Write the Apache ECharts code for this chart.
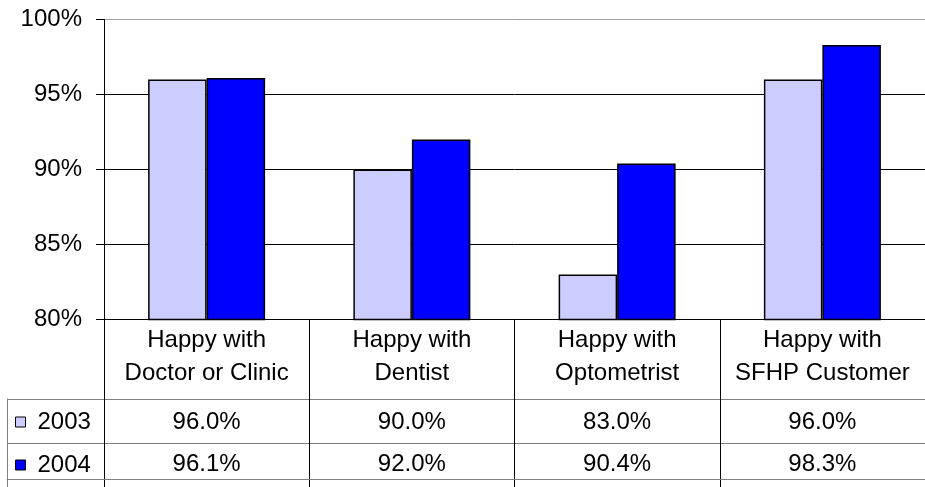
<!DOCTYPE html>
<html>
<head>
<meta charset="utf-8">
<script src="https://cdn.jsdelivr.net/npm/echarts@6/dist/echarts.min.js"></script>
<style>
html,body{margin:0;padding:0;background:#fff;}
#c{width:925px;height:487px;}
</style>
</head>
<body>
<div id="c"></div>
<script>
const categories = ['Happy with\nDoctor or Clinic', 'Happy with\nDentist', 'Happy with\nOptometrist', 'Happy with\nSFHP Customer'];
const seriesNames = ['2003', '2004'];
const values2003 = [96.0, 90.0, 83.0, 96.0];
const values2004 = [96.1, 92.0, 90.4, 98.3];
const yTicks = { min: 80, max: 100, interval: 5 };

const FONT = "'Liberation Sans', Arial, sans-serif";
const fmt = v => v.toFixed(1) + '%';
const GL = 104, GW = 826.7;

const chart = echarts.init(document.getElementById('c'), null, { renderer: 'canvas' });
chart.setOption({
  animation: false,
  backgroundColor: '#fff',
  textStyle: { fontFamily: FONT, color: '#000' },
  legend: {
    orient: 'vertical', left: 15, top: 410, padding: 0,
    itemWidth: 10, itemHeight: 10, itemGap: 19, icon: 'rect',
    textStyle: { fontFamily: FONT, fontSize: 24, color: '#000', lineHeight: 24, padding: [0, 0, 0, 7] },
    data: [
      { name: seriesNames[0], itemStyle: { color: '#ccccff', borderColor: '#000', borderWidth: 1 } },
      { name: seriesNames[1], itemStyle: { color: '#0000ff', borderColor: '#000', borderWidth: 1 } }
    ]
  },
  grid: [
    { left: GL, top: 19.5, width: GW, height: 300, containLabel: false },
    { left: GL, top: 320, width: GW, height: 167, containLabel: false },
    { left: 7, top: 399, width: 930 - 7, height: 93.4, containLabel: false }
  ],
  xAxis: [
    {
      type: 'category', gridIndex: 0, data: categories, position: 'bottom',
      axisLine: { show: true, lineStyle: { color: '#000', width: 1 } },
      axisTick: { show: false },
      axisLabel: { interval: 0, margin: 37, verticalAlign: 'middle', fontSize: 24, lineHeight: 33, color: '#000', fontFamily: FONT }
    },
    {
      type: 'category', gridIndex: 0, data: values2003.map(fmt), position: 'bottom',
      axisLine: { show: false }, axisTick: { show: false },
      axisLabel: { interval: 0, margin: 103, verticalAlign: 'middle', fontSize: 24, color: '#000', fontFamily: FONT }
    },
    {
      type: 'category', gridIndex: 0, data: values2004.map(fmt), position: 'bottom',
      axisLine: { show: false }, axisTick: { show: false },
      axisLabel: { interval: 0, margin: 145, verticalAlign: 'middle', fontSize: 24, color: '#000', fontFamily: FONT }
    },
    {
      type: 'category', gridIndex: 1, data: categories,
      axisLine: { show: false }, axisTick: { show: false }, axisLabel: { show: false },
      splitLine: { show: true, lineStyle: { color: '#000', width: 1 } }
    },
    {
      type: 'value', gridIndex: 2, position: 'bottom', offset: -7.4,
      axisLine: { show: true, lineStyle: { color: '#808080', width: 1 } },
      axisTick: { show: false }, axisLabel: { show: false }, splitLine: { show: false }
    }
  ],
  yAxis: [
    {
      type: 'value', gridIndex: 0, min: yTicks.min, max: yTicks.max, interval: yTicks.interval,
      axisLine: { show: true, lineStyle: { color: '#000', width: 1 } },
      axisTick: { show: true, length: 8, lineStyle: { color: '#000' } },
      axisLabel: { formatter: '{value}%', fontSize: 24, margin: 22, color: '#000', fontFamily: FONT },
      splitLine: { show: true, lineStyle: { color: ['#000', '#000', '#000', '#000', '#a0a0a0'], width: 1 } }
    },
    { type: 'value', gridIndex: 1, show: false },
    {
      type: 'category', gridIndex: 2, data: seriesNames, inverse: true,
      axisLine: { show: true, lineStyle: { color: '#808080' } },
      axisTick: { show: false }, axisLabel: { show: false },
      splitLine: { show: true, lineStyle: { color: '#808080', width: 1 } }
    }
  ],
  series: [
    {
      name: seriesNames[0], type: 'bar', xAxisIndex: 0, yAxisIndex: 0, data: values2003,
      barGap: '0%', barCategoryGap: '43%',
      itemStyle: { color: '#ccccff', borderColor: '#000', borderWidth: 1.5 }
    },
    {
      name: seriesNames[1], type: 'bar', xAxisIndex: 0, yAxisIndex: 0, data: values2004,
      barGap: '0%', barCategoryGap: '43%',
      itemStyle: { color: '#0000ff', borderColor: '#000', borderWidth: 1.5 }
    }
  ]
});
</script>
</body>
</html>
